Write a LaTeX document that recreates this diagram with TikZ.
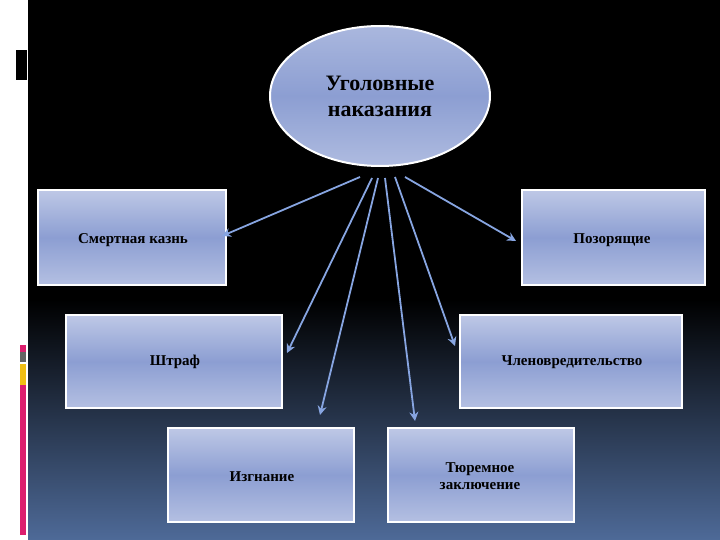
\documentclass[tikz,border=0pt]{standalone}
\usepackage{fontspec}
\setmainfont{Liberation Serif}
\usetikzlibrary{arrows.meta,shapes.geometric}
\definecolor{boxmid}{RGB}{140,158,210}
\definecolor{boxtop}{RGB}{190,200,230}
\definecolor{arr}{RGB}{135,165,225}
\definecolor{bgbot}{RGB}{78,106,152}
\definecolor{pinkc}{RGB}{220,30,110}
\definecolor{grayc}{RGB}{100,100,100}
\definecolor{yellc}{RGB}{240,190,20}
\tikzset{
 bx/.style={draw=white,line width=1.6pt,top color=boxtop,bottom color=boxtop!80!boxmid,middle color=boxmid},
 lbl/.style={font=\bfseries\fontsize{15}{17}\selectfont,text=black,align=center},
 ar/.style={draw=arr,line width=1.8pt,-{Stealth[length=9pt,width=9pt]}},
}
\begin{document}
\begin{tikzpicture}[x=1pt,y=-1pt]
\useasboundingbox (0,0) rectangle (720,540);
\fill[white] (0,0) rectangle (28,540);
\fill[black] (28,0) rectangle (720,300);
\shade[top color=black,bottom color=bgbot] (28,299.5) rectangle (720,540);
\fill[black] (16,50) rectangle (27,80);
\fill[pinkc] (20,345) rectangle (26,352);
\fill[grayc] (20,352) rectangle (26,362);
\fill[yellc] (20,364) rectangle (26,385);
\fill[pinkc] (20,385) rectangle (26,535);
\node[ellipse,draw=white,line width=2pt,inner sep=0pt,minimum width=220pt,minimum height=140pt,top color=boxtop!60!boxmid,bottom color=boxtop!70!boxmid,middle color=boxmid,align=center,font=\bfseries\fontsize{22}{26}\selectfont] (e) at (380,96) {Уголовные\\наказания};
\path[bx] (38,190) rectangle (226,285);
\node[lbl] (b1) at (133,240) {Смертная казнь};
\path[bx] (522,190) rectangle (705,285);
\node[lbl] (b2) at (612,240) {Позорящие};
\path[bx] (66,315) rectangle (282,408);
\node[lbl] (b3) at (175,362) {Штраф};
\path[bx] (460,315) rectangle (682,408);
\node[lbl] (b4) at (572,362) {Членовредительство};
\path[bx] (168,428) rectangle (354,522);
\node[lbl] (b5) at (262,477) {Изгнание};
\path[bx] (388,428) rectangle (574,522);
\node[lbl] (b6) at (480,476) {Тюремное\\заключение};
\coordinate (s1) at (360,177); \coordinate (t1) at (222,236);
\coordinate (s2) at (372,178); \coordinate (t2) at (287,353);
\coordinate (s3) at (378,178); \coordinate (t3) at (320,415);
\coordinate (s4) at (385,178); \coordinate (t4) at (415,421);
\coordinate (s5) at (395,177); \coordinate (t5) at (455,346);
\coordinate (s6) at (405,177); \coordinate (t6) at (516,241);
\foreach \i in {1,...,6} \draw[ar] (s\i) -- (t\i);
\end{tikzpicture}
\end{document}
